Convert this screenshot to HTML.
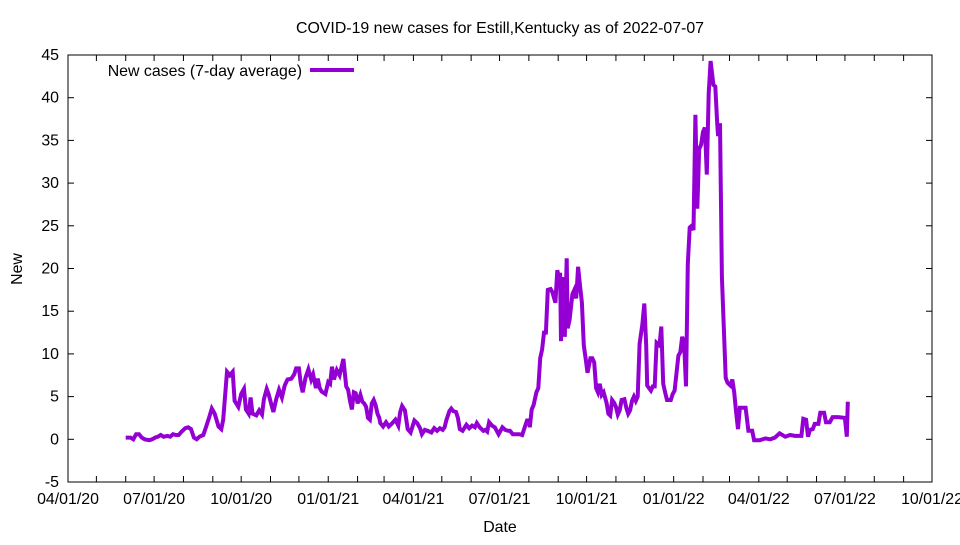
<!DOCTYPE html>
<html><head><meta charset="utf-8"><style>
body{margin:0;background:#fff}
svg text{font-family:"Liberation Sans",sans-serif;font-size:15.9px;fill:#000}
</style></head><body>
<svg id="chart" width="960" height="540" xmlns="http://www.w3.org/2000/svg">
<text x="500" y="33" text-anchor="middle">COVID-19 new cases for Estill,Kentucky as of 2022-07-07</text>
<text transform="translate(22,269) rotate(-90)" text-anchor="middle">New</text>
<text x="500" y="532" text-anchor="middle">Date</text>
<rect x="68" y="55" width="864" height="427" fill="none" stroke="#000" stroke-width="1"/>
<g id="axes"></g>
<g id="series"></g>
<text x="302" y="76" text-anchor="end">New cases (7-day average)</text>
<line x1="310" y1="70" x2="354" y2="70" stroke="#9400d3" stroke-width="4"/>
</svg>
<script>
// days since 2020-04-01
const days=[61,66,69,72,75,78,81,86,89,92,95,98,101,105,108,111,114,117,120,124,127,130,133,136,139,143,146,149,152,155,159,162,164,168,171,174,176,180,183,186,188,191,193,195,199,202,205,207,210,212,215,217,220,223,226,229,232,236,239,241,244,246,248,251,254,257,259,262,264,266,268,272,275,277,279,281,284,287,291,294,296,298,300,302,304,306,309,311,313,315,317,319,321,323,325,327,329,330,333,336,339,342,346,349,351,353,356,359,362,366,369,372,374,377,380,384,387,390,393,396,398,400,403,405,407,410,412,414,417,421,424,427,430,432,435,439,441,443,445,448,451,453,455,459,462,465,467,470,473,477,480,482,485,487,488,490,492,495,497,499,501,503,505,507,510,512,515,517,519,520,521,523,525,527,528,530,533,535,537,539,541,543,545,547,549,552,554,556,558,560,562,564,566,569,571,573,575,577,579,581,583,585,588,590,592,594,596,598,600,602,604,607,609,611,612,614,616,618,620,622,625,627,629,631,633,635,637,639,641,645,647,649,651,653,655,657,659,661,663,665,667,669,671,673,675,677,679,682,684,686,687,689,691,695,697,700,702,704,706,708,710,714,716,719,723,725,731,737,742,747,752,758,763,768,775,777,780,782,784,787,789,793,795,799,801,805,808,814,821,823,824];
const cases=[0.2,0.2,0,0.6,0.6,0.2,0,-0.1,0,0.2,0.3,0.5,0.3,0.4,0.3,0.6,0.5,0.5,0.9,1.3,1.4,1.2,0.2,0,0.3,0.5,1.5,2.5,3.6,3,1.5,1.2,2.3,7.9,7.5,7.9,4.5,3.8,5.3,5.9,3.5,3,4.9,3,2.8,3.4,2.9,4.7,5.9,5.3,4,3.2,4.7,5.8,4.9,6.3,7,7.1,7.6,8.3,8.3,6.5,5.5,7.2,8.2,7,7.6,6,7.1,6,5.6,5.3,6.7,6.5,8.5,7,8.1,7.5,9.4,6.2,5.8,4.5,3.5,5.5,5.4,4.2,5.2,4.4,4.2,3.8,2.5,2.3,4.2,4.6,4,3,2.5,1.9,1.5,2,1.5,1.8,2.3,1.6,3.2,3.9,3.4,1.2,0.8,2.2,1.9,1.3,0.6,1.1,1,0.8,1.3,1,1.3,1.1,1.4,2.3,3.3,3.6,3.3,3.2,2.5,1.2,1,1.7,1.3,1.6,1.4,1.9,1.4,1,1.1,0.9,2,1.6,1.4,1,0.6,1.4,1.1,1,1,0.6,0.6,0.6,0.5,1.2,2.2,2.2,1.4,3.5,4,5.5,6,9.5,10.5,12.5,12.5,17.5,17.6,17.2,16,19.8,18.8,19.5,11.5,19,12,21.2,13,14,17,17.5,16.5,20.2,18,16,11,9.5,7.8,9.5,9.5,9,6,5.5,6.5,5.2,5.5,4.3,3,2.8,4.6,4.3,3.8,2.9,3.4,4.6,4.7,3.7,3,3.4,4.5,5,4.5,5,11.2,13.5,15.9,11,6.3,6,5.7,6.2,6.2,11.3,11,13.2,6.5,5.5,4.6,4.6,4.6,5.3,5.7,9.8,10.2,12,11.3,6.2,20.5,24.8,25,24.5,38,27,34,34.5,36,36.5,31,40.5,44.3,41.5,41.3,37,35.5,37,19,7.2,6.6,6.3,7,5.5,3.2,1.2,3.7,3.7,3.7,1,1,-0.1,-0.1,0.1,0,0.2,0.7,0.3,0.5,0.4,0.4,2.4,2.3,0.3,1.1,1.2,1.8,1.8,3.1,3.1,2,2,2.6,2.6,2.5,0.3,4.4];
const yTicks=[-5,0,5,10,15,20,25,30,35,40,45];
const xTickLabels=["04/01/20","07/01/20","10/01/20","01/01/21","04/01/21","07/01/21","10/01/21","01/01/22","04/01/22","07/01/22","10/01/22"];
const NS='http://www.w3.org/2000/svg';
const X0=68,X1=932,Y0=482,Y1=55,DMAX=913,VMIN=-5,VMAX=45;
const base=Date.UTC(2020,3,1);
const xs=d=>X0+(X1-X0)*d/DMAX;
const ys=v=>Y0-(Y0-Y1)*(v-VMIN)/(VMAX-VMIN);
const axes=document.getElementById('axes');
function mk(tag,attrs,parent){const e=document.createElementNS(NS,tag);for(const k in attrs)e.setAttribute(k,attrs[k]);parent.appendChild(e);return e;}
yTicks.forEach(v=>{const y=ys(v);
 const t=mk('line',{x1:X0,x2:X0+6,y1:y,y2:y,stroke:'#000'},axes);
 
 
 const t2=mk('line',{x1:X1,x2:X1-6,y1:y,y2:y,stroke:'#000'},axes);
 
 
 const l=mk('text',{x:X0-9,y:y+5,'text-anchor':'end'},axes);l.textContent=v;
 
 
});
for(let m=0;m<=30;m++){const dt=Date.UTC(2020,3+m,1);const d=(dt-base)/864e5;const x=xs(d);
 const t=mk('line',{x1:x,x2:x,y1:Y0,y2:Y0-6,stroke:'#000'},axes);
 
 
 const t2=mk('line',{x1:x,x2:x,y1:Y1,y2:Y1+6,stroke:'#000'},axes);
 
 
 if(m%3===0){const l=mk('text',{x:x,y:Y0+22,'text-anchor':'middle'},axes);l.textContent=xTickLabels[m/3];
  
  }
}
const pts=days.map((d,i)=>xs(d).toFixed(1)+','+ys(cases[i]).toFixed(1)).join(' ');
const pl=mk('polyline',{points:pts,fill:'none',stroke:'#9400d3','stroke-width':4,'stroke-linejoin':'miter'},document.getElementById('series'));


</script>
</body></html>
